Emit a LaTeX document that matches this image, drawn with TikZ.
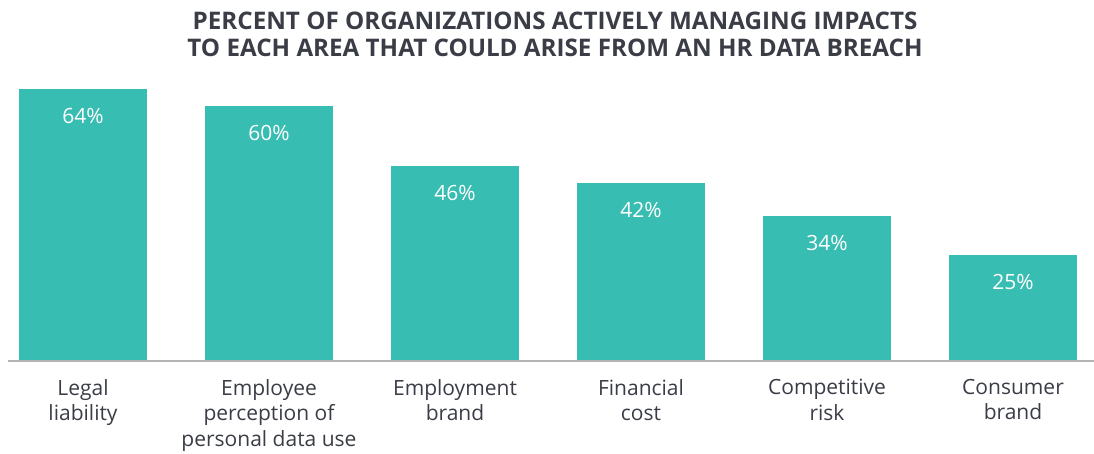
\documentclass[tikz,border=0pt]{standalone}
\usepackage{fontspec}
\setmainfont{Open Sans}
\definecolor{teal}{HTML}{37BDB2}
\definecolor{txt}{HTML}{3A3D46}
\definecolor{axis}{HTML}{B3B3B3}
\begin{document}
\begin{tikzpicture}[x=1pt,y=-1pt,
  bar/.style={fill=teal,draw=none},
  pct/.style={text=white,font=\fontsize{21}{25}\selectfont,anchor=center,inner sep=0},
  lab/.style={text=txt,font=\fontsize{21}{25.5}\selectfont,align=center,anchor=north,inner sep=0},
  ttl/.style={text=txt,font=\bfseries\fontsize{24.2}{27}\selectfont,align=center,inner sep=0}]
\useasboundingbox (0,0) rectangle (1094,453);
\node[ttl] (title) at (555,34) {PERCENT OF ORGANIZATIONS ACTIVELY MANAGING IMPACTS\\TO EACH AREA THAT COULD ARISE FROM AN HR DATA BREACH};
\foreach \i/\x/\t/\p/\l in {1/19/89/64/{Legal\\liability},
  2/205/106/60/{Employee\\perception of\\personal data use},
  3/391/166/46/{Employment\\brand},
  4/577/183/42/{Financial\\cost},
  5/763/216/34/{Competitive\\risk},
  6/949/255/25/{Consumer\\brand}}{
  \path[bar] (\x,\t) rectangle (\x+128,360);
  \node[pct] (p\i) at (\x+64,\t+27) {\p\%};
  \node[lab] (l\i) at (\x+64,379) {\l};
}
\draw[axis,line width=2] (8,361) -- (1094,361);
\end{tikzpicture}
\end{document}
